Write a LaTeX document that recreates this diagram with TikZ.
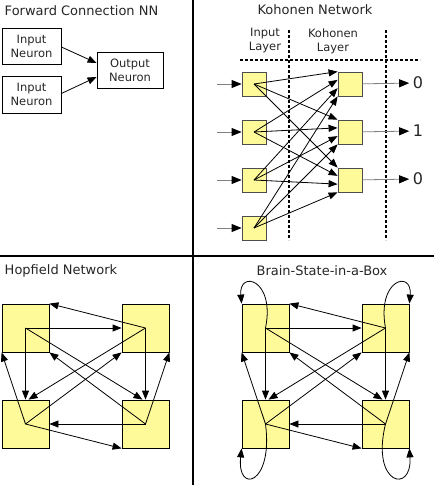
\documentclass[tikz,border=0pt]{standalone}
\usepackage{fontspec}
\setmainfont{DejaVu Sans}
\usetikzlibrary{arrows.meta, calc}
\def\unitcolor{yellow!40!white}
\def\wirecolor{black!50}

\begin{document}
\begin{tikzpicture}[x = 1pt, y = -1pt, line width = 0.8pt, >={Triangle[length = 9pt, width = 7pt]},
	title/.style = {font = \fontsize{13}{15}\selectfont, text = black!85},
	neuron/.style = {draw, align = center, inner sep = 0pt, font = \fontsize{11.5}{14}\selectfont, text = black!85},
	cell/.style = {draw = black!70, fill = \unitcolor, minimum width = 24pt, minimum height = 24pt, inner sep = 0pt},
	unit/.style = {draw, fill = \unitcolor, minimum width = 47pt, minimum height = 48pt, inner sep = 0pt},
	wire/.style = {\wirecolor, -{Triangle[length = 10pt, width = 8pt, color = black]}},
	layer/.style = {line width = 2pt, dash pattern = on 3pt off 2pt}]
	\useasboundingbox (0, 0) rectangle (434, 485);
	\draw[line width = 1.5pt] (193, 0) -- (193, 485);
	\draw[line width = 1.5pt] (0, 256) -- (434, 256);

	% forward connection
	\node[title, anchor = west] (fwdtitle) at (1, 11) {Forward Connection NN};
	\node[neuron, minimum width = 59pt, minimum height = 36pt] (in1) at (31.5, 46) {Input\\Neuron};
	\node[neuron, minimum width = 59pt, minimum height = 37pt] (in2) at (31.5, 94.5) {Input\\Neuron};
	\node[neuron, minimum width = 66pt, minimum height = 36pt] (outn) at (130, 70) {Output\\Neuron};
	\draw[->] ([yshift = -1pt]in1.east) -- ([yshift = 7pt]outn.west);
	\draw[->] ([yshift = 1pt]in2.east) -- ([yshift = -7pt]outn.west);

	% kohonen
	\node[title] (kohtitle) at (315, 10) {Kohonen Network};
	\node[neuron, draw = none] (inlabel) at (265, 41) {Input\\Layer};
	\node[neuron, draw = none] (kohlabel) at (333, 41) {Kohonen\\Layer};
	\draw[layer] (240, 60) -- (420, 60);
	\foreach \x in {289, 386}
		\draw[layer] (\x, 30) -- (\x, 240);
	\foreach \i in {1, ..., 4}
	{
		\coordinate (src\i) at (217, 36 + 48*\i);
		\node[cell] (inp\i) at (254, 36 + 48*\i) {};
		\draw[wire] (src\i) -- (inp\i);
	}
	\foreach \j/\val in {1/0, 2/1, 3/0}
	{
		\node[cell] (koh\j) at (350, 36 + 48*\j) {};
		\node[font = \fontsize{16}{18}\selectfont, text = black!85] (res\j) at (418, 35 + 48*\j) {\val};
		\draw[wire] (koh\j) -- (res\j);
	}
	\foreach \i [evaluate = \i as \f using (\i - 1)/3] in {1, ..., 4}
		\foreach \j in {1, 2, 3}
			\draw[->] (inp\i.center) -- ($(koh\j.north west)!\f!(koh\j.south west)$);

	% hopfield and brain-state-in-a-box
	\node[title, anchor = west] (hoptitle) at (1, 271) {Hopfield Network};
	\node[title] (bsbtitle) at (322, 271) {Brain-State-in-a-Box};
	\foreach \dx in {0, 240}
	{
		\node[unit] (a\dx) at (25.5 + \dx, 328) {};
		\node[unit] (b\dx) at (145.5 + \dx, 328) {};
		\node[unit] (c\dx) at (25.5 + \dx, 424) {};
		\node[unit] (d\dx) at (145.5 + \dx, 424) {};
		\draw[->] (a\dx.center) -- (b\dx.west);
		\draw[->] (b\dx.center) -- (a\dx.north east);
		\draw[->] (a\dx.center) -- (c\dx.north);
		\draw[->] (c\dx.center) -- (a\dx.south west);
		\draw[->] (b\dx.center) -- (d\dx.north);
		\draw[->] (d\dx.center) -- (b\dx.south east);
		\draw[->] (d\dx.center) -- (c\dx.east);
		\draw[->] (c\dx.center) -- (d\dx.south west);
		\draw[->] (a\dx.center) -- ([xshift = -3pt]d\dx.north);
		\draw[->] (d\dx.center) -- (a\dx.south east);
		\draw[->] (b\dx.center) -- ([xshift = 3pt]c\dx.north);
		\draw[->] (c\dx.center) -- (b\dx.south west);
	}
	\draw[->] (a240.center) .. controls +(10, -49) and +(-3, -34) .. (a240.north west);
	\draw[->] (b240.center) .. controls +(-9, -49) and +(3, -34) .. (b240.north east);
	\draw[->] (c240.center) .. controls +(8, 61) and +(-5, 46) .. (c240.south west);
	\draw[->] (d240.center) .. controls +(-15, 61) and +(3, 46) .. (d240.south east);
\end{tikzpicture}
\end{document}
